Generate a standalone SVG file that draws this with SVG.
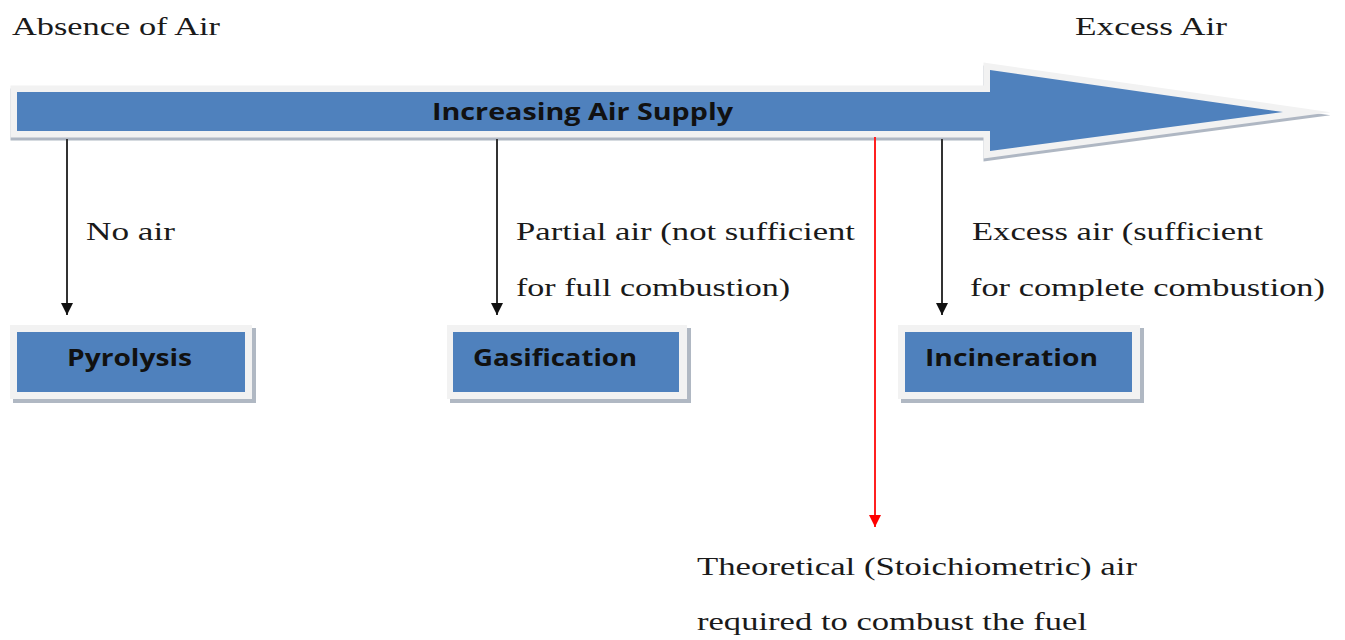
<svg xmlns="http://www.w3.org/2000/svg" width="1345" height="640" viewBox="0 0 1345 640">
<style>
.serif{font-family:"Liberation Serif","Times New Roman",serif;font-size:26px;fill:#1a1a1a}
.lbl{font-family:"Open Sans","Liberation Sans",sans-serif;font-weight:700;font-size:23px;fill:#111}
.blue{fill:#4f81bd}
.rim{fill:#f2f2f2}
.shadow{fill:#8e9aaa}
.conn{stroke:#333;stroke-width:2;fill:none}
.red{stroke:#ff2020;stroke-width:2;fill:none}
</style>
<defs>
<marker id="ah" markerWidth="12" markerHeight="12" refX="12" refY="6" orient="auto" markerUnits="userSpaceOnUse" viewBox="0 0 12 12">
<path d="M0,0 L12,6 L0,12 Z" fill="#111"/>
</marker>
<marker id="ahr" markerWidth="12" markerHeight="12" refX="12" refY="6" orient="auto" markerUnits="userSpaceOnUse" viewBox="0 0 12 12">
<path d="M0,0 L12,6 L0,12 Z" fill="#ff0000"/>
</marker>
</defs>
<rect width="1345" height="640" fill="#fff"/>
<g id="main-arrow">
<polygon points="17,95 990,95 990,73 1283,115 990,154 990,134 17,134" fill="#8e9aaa" stroke="#8e9aaa" stroke-width="13" stroke-miterlimit="12" opacity="0.7"/>
<polygon points="17,92 990,92 990,70 1283,112 990,151 990,131 17,131" fill="#f2f2f2" stroke="#f2f2f2" stroke-width="13" stroke-miterlimit="12"/>
<polygon class="blue" points="17,92 990,92 990,70 1283,112 990,151 990,131 17,131"/>
<text class="lbl" x="432" y="120" textLength="301" lengthAdjust="spacingAndGlyphs">Increasing Air Supply</text>
</g>
<text class="serif" x="12" y="35" textLength="208" lengthAdjust="spacingAndGlyphs">Absence of Air</text>
<text class="serif" x="1075" y="35" textLength="152" lengthAdjust="spacingAndGlyphs">Excess Air</text>
<g id="connectors">
<line class="conn" x1="67" y1="139" x2="67" y2="315" marker-end="url(#ah)"/>
<line class="conn" x1="497" y1="139" x2="497" y2="315" marker-end="url(#ah)"/>
<line class="conn" x1="942" y1="139" x2="942" y2="315" marker-end="url(#ah)"/>
<line class="red" x1="875" y1="137" x2="875" y2="527" marker-end="url(#ahr)"/>
</g>
<g id="label-noair"><text class="serif" x="86" y="240" textLength="89" lengthAdjust="spacingAndGlyphs">No air</text></g>
<g id="label-partial">
<text class="serif" x="516" y="240" textLength="339" lengthAdjust="spacingAndGlyphs">Partial air (not sufficient</text>
<text class="serif" x="516" y="296" textLength="274" lengthAdjust="spacingAndGlyphs">for full combustion)</text>
</g>
<g id="label-excess">
<text class="serif" x="972" y="240" textLength="291" lengthAdjust="spacingAndGlyphs">Excess air (sufficient</text>
<text class="serif" x="970" y="296" textLength="355" lengthAdjust="spacingAndGlyphs">for complete combustion)</text>
</g>
<g id="label-theoretical">
<text class="serif" x="697" y="575" textLength="440" lengthAdjust="spacingAndGlyphs">Theoretical (Stoichiometric) air</text>
<text class="serif" x="697" y="630" textLength="390" lengthAdjust="spacingAndGlyphs">required to combust the fuel</text>
</g>
<g id="pyrolysis">
<rect class="shadow" x="13" y="328" width="243" height="75" opacity="0.7"/>
<rect class="rim" x="10" y="325" width="242" height="74"/>
<rect class="blue" x="17" y="332" width="228" height="60"/>
<text class="lbl" x="67" y="366" textLength="125" lengthAdjust="spacingAndGlyphs">Pyrolysis</text>
</g>
<g id="gasification">
<rect class="shadow" x="450" y="328" width="241" height="75" opacity="0.7"/>
<rect class="rim" x="447" y="325" width="240" height="74"/>
<rect class="blue" x="453" y="332" width="226" height="60"/>
<text class="lbl" x="473" y="366" textLength="164" lengthAdjust="spacingAndGlyphs">Gasification</text>
</g>
<g id="incineration">
<rect class="shadow" x="901" y="328" width="243" height="75" opacity="0.7"/>
<rect class="rim" x="898" y="325" width="242" height="74"/>
<rect class="blue" x="905" y="332" width="227" height="60"/>
<text class="lbl" x="925" y="366" textLength="173" lengthAdjust="spacingAndGlyphs">Incineration</text>
</g>
</svg>
